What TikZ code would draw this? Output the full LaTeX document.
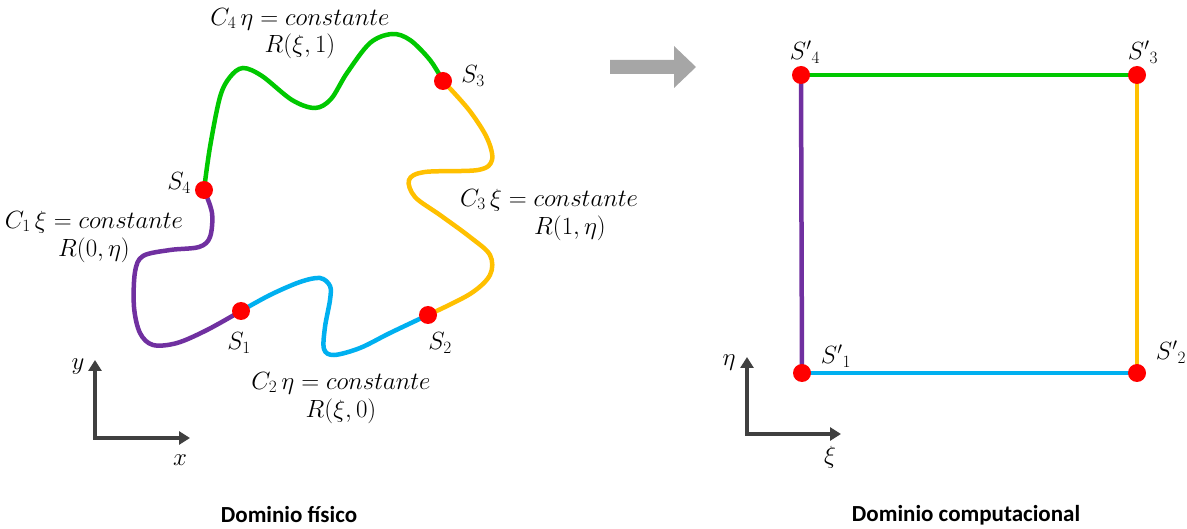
\documentclass[tikz,border=0pt]{standalone}
\usepackage{fontspec}
\setsansfont{Carlito}
\usetikzlibrary{arrows.meta}
\definecolor{cgreen}{RGB}{0,200,0}
\definecolor{cyellow}{RGB}{255,192,0}
\definecolor{cblue}{RGB}{0,176,240}
\definecolor{cpurple}{RGB}{112,48,160}
\definecolor{cred}{RGB}{255,0,0}
\definecolor{cgray}{RGB}{166,166,166}
\definecolor{caxis}{RGB}{64,64,64}
\begin{document}
\begin{tikzpicture}[x=1pt,y=-1pt,
  curve/.style={line width=4.5pt, line cap=round, smooth, tension=0.55},
  edge/.style={line width=4.5pt},
  dot/.style={circle, fill=cred, inner sep=0pt, minimum size=18pt},
  lbl/.style={font=\fontsize{23.5}{27}\selectfont, inner sep=0pt},
  axis/.style={line width=3.5pt, caxis, line join=miter,
    {Triangle[width=13pt,length=11pt]}-{Triangle[width=13pt,length=11pt]}},
  titlef/.style={font=\sffamily\bfseries\fontsize{23}{26}\selectfont, inner sep=0pt}]
\useasboundingbox (0,0) rectangle (1187,529);

% ---------- physical domain ----------
\coordinate (p1) at (241,311);
\coordinate (p2) at (428,315);
\coordinate (p3) at (443,81);
\coordinate (p4) at (204,190);

\draw[curve, cgreen] plot coordinates {(p4) (210,147) (220,97) (230,77) (243,68) (262,76) (292,100) (315,108) (331,99) (347,73) (370,43) (392,34) (410,40) (430,60) (p3)};
\draw[curve, cyellow] plot coordinates {(p3) (469,110) (487,138) (492,160) (478,170) (425,172) (409,180) (415,197) (440,215) (470,237) (490,255) (490,275) (470,294) (p2)};
\draw[curve, cblue] plot coordinates {(p1) (270,295) (300,282) (320,278) (330,286) (330,300) (325,327) (324,349) (334,355) (360,348) (390,333) (p2)};
\draw[curve, cpurple] plot coordinates {(p4) (212,213) (210,237) (199,247) (170,250) (143,256) (135,272) (134,307) (140,333) (153,345) (177,343) (207,330) (p1)};

\node[dot] (S1) at (p1) {};
\node[dot] (S2) at (p2) {};
\node[dot] (S3) at (p3) {};
\node[dot] (S4) at (p4) {};

\node[lbl] (lS1) at (239,343) {$S_1$};
\node[lbl] (lS2) at (440,343) {$S_2$};
\node[lbl] (lS3) at (473,76) {$S_3$};
\node[lbl] (lS4) at (179,183) {$S_4$};

\node[lbl] (c4a) at (300,19) {$C_4\,\eta = constante$};
\node[lbl] (c4b) at (300,46) {$R(\xi,1)$};
\node[lbl] (c1a) at (94,222) {$C_1\,\xi = constante$};
\node[lbl] (c1b) at (94,250) {$R(0,\eta)$};
\node[lbl] (c3a) at (549,200) {$C_3\,\xi = constante$};
\node[lbl] (c3b) at (570,228) {$R(1,\eta)$};
\node[lbl] (c2a) at (341,383) {$C_2\,\eta = constante$};
\node[lbl] (c2b) at (341,411) {$R(\xi,0)$};

\coordinate (ay1) at (95,360);
\coordinate (ao1) at (95,438);
\coordinate (ax1) at (190,438);
\draw[axis] (ay1) -- (ao1) -- (ax1);
\node[lbl] (ly) at (78,367) {$y$};
\node[lbl] (lx) at (180,460) {$x$};

\node[titlef] (t1) at (289,515) {Dominio físico};

% ---------- arrow ----------
\fill[cgray] (610,60) -- (674,60) -- (674,46) -- (696,67) -- (674,88) -- (674,74) -- (610,74) -- cycle;

% ---------- computational domain ----------
\coordinate (q1) at (802,373);
\coordinate (q2) at (1137,373);
\coordinate (q3) at (1137,75);
\coordinate (q4) at (801,75);

\draw[edge, cgreen] (q4) -- (q3);
\draw[edge, cyellow] (q3) -- (q2);
\draw[edge, cblue] (q1) -- (q2);
\draw[edge, cpurple] (q4) -- (q1);

\node[dot] (T1) at (q1) {};
\node[dot] (T2) at (q2) {};
\node[dot] (T3) at (q3) {};
\node[dot] (T4) at (q4) {};

\node[lbl] (lT1) at (836,356) {${S'}_1$};
\node[lbl] (lT2) at (1171,352) {${S'}_2$};
\node[lbl] (lT3) at (1143,52) {${S'}_3$};
\node[lbl] (lT4) at (805,52) {${S'}_4$};

\coordinate (ay2) at (747,357);
\coordinate (ao2) at (747,434);
\coordinate (ax2) at (841,434);
\draw[axis] (ay2) -- (ao2) -- (ax2);
\node[lbl] (leta) at (729,363) {$\eta$};
\node[lbl] (lxi) at (830,457) {$\xi$};

\node[titlef] (t2) at (966,515) {Dominio computacional};
\end{tikzpicture}
\end{document}
